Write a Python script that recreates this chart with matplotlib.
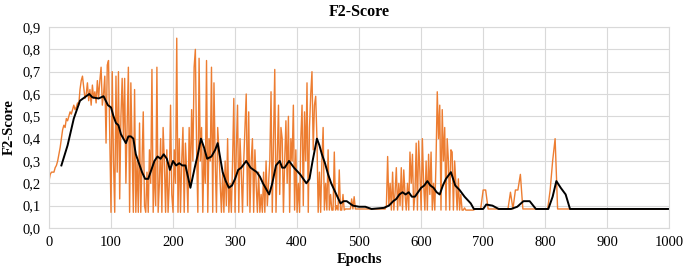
import matplotlib.pyplot as plt
from matplotlib.ticker import FuncFormatter, MultipleLocator

plt.rcParams['font.family'] = ['Liberation Serif', 'DejaVu Serif']

# F2-score per epoch, epochs 0-678 read every 2 epochs
f2_dense = [
    0.21, 0.24, 0.25, 0.25, 0.25, 0.27, 0.28, 0.30, 0.33, 0.36, 0.40, 0.44, 0.46, 0.45, 0.49, 0.48, 0.50, 0.52, 0.51, 0.53,
    0.55, 0.53, 0.54, 0.56, 0.55, 0.62, 0.66, 0.68, 0.63, 0.58, 0.60, 0.65, 0.57, 0.62, 0.55, 0.64, 0.58, 0.61, 0.56, 0.66,
    0.58, 0.66, 0.72, 0.55, 0.60, 0.68, 0.38, 0.73, 0.75, 0.40, 0.07, 0.70, 0.30, 0.07, 0.68, 0.25, 0.70, 0.13, 0.50, 0.67,
    0.40, 0.67, 0.20, 0.45, 0.72, 0.07, 0.65, 0.35, 0.07, 0.62, 0.07, 0.30, 0.07, 0.47, 0.07, 0.30, 0.52, 0.10, 0.07, 0.25,
    0.07, 0.35, 0.20, 0.71, 0.07, 0.30, 0.10, 0.72, 0.07, 0.20, 0.40, 0.07, 0.45, 0.30, 0.07, 0.35, 0.07, 0.20, 0.55, 0.15,
    0.07, 0.35, 0.20, 0.85, 0.07, 0.40, 0.07, 0.30, 0.45, 0.07, 0.38, 0.25, 0.07, 0.45, 0.20, 0.53, 0.30, 0.72, 0.80, 0.35,
    0.07, 0.76, 0.30, 0.45, 0.07, 0.35, 0.20, 0.75, 0.07, 0.40, 0.30, 0.72, 0.07, 0.65, 0.30, 0.07, 0.45, 0.35, 0.20, 0.07,
    0.25, 0.07, 0.30, 0.10, 0.40, 0.07, 0.20, 0.07, 0.30, 0.58, 0.07, 0.35, 0.55, 0.07, 0.40, 0.25, 0.07, 0.30, 0.45, 0.60,
    0.10, 0.52, 0.07, 0.30, 0.40, 0.07, 0.35, 0.20, 0.07, 0.25, 0.07, 0.15, 0.07, 0.25, 0.07, 0.30, 0.10, 0.20, 0.30, 0.61,
    0.07, 0.40, 0.71, 0.07, 0.30, 0.55, 0.15, 0.45, 0.40, 0.07, 0.30, 0.48, 0.20, 0.50, 0.07, 0.40, 0.30, 0.55, 0.08, 0.35,
    0.07, 0.20, 0.07, 0.40, 0.55, 0.10, 0.52, 0.30, 0.65, 0.07, 0.45, 0.60, 0.70, 0.35, 0.55, 0.59, 0.40, 0.07, 0.25, 0.07,
    0.30, 0.45, 0.08, 0.20, 0.08, 0.35, 0.08, 0.15, 0.08, 0.08, 0.34, 0.08, 0.10, 0.08, 0.26, 0.08, 0.08, 0.15, 0.08, 0.085,
    0.085, 0.085, 0.085, 0.085, 0.13, 0.085, 0.14, 0.085, 0.085, 0.085, 0.085, 0.085, 0.085, 0.085, 0.085, 0.085, 0.085, 0.085, 0.085, 0.085,
    0.085, 0.085, 0.085, 0.085, 0.085, 0.085, 0.085, 0.085, 0.085, 0.085, 0.085, 0.085, 0.10, 0.32, 0.10, 0.20, 0.08, 0.25, 0.08, 0.16,
    0.27, 0.08, 0.20, 0.10, 0.27, 0.08, 0.26, 0.15, 0.08, 0.20, 0.08, 0.34, 0.20, 0.33, 0.08, 0.15, 0.38, 0.08, 0.39, 0.25,
    0.08, 0.40, 0.20, 0.08, 0.30, 0.08, 0.33, 0.15, 0.34, 0.08, 0.20, 0.08, 0.30, 0.61, 0.40, 0.55, 0.08, 0.53, 0.30, 0.45,
    0.08, 0.40, 0.30, 0.08, 0.35, 0.34, 0.08, 0.30, 0.20, 0.08, 0.22, 0.08, 0.15, 0.08, 0.08, 0.09, 0.08, 0.08, 0.08, 0.08,
]
# epochs 680-996 read every 4 epochs
f2_tail = [
    0.08, 0.08, 0.085, 0.085, 0.085, 0.17, 0.17, 0.085, 0.085, 0.085,
    0.085, 0.085, 0.085, 0.085, 0.085, 0.085, 0.16, 0.085, 0.17, 0.17,
    0.24, 0.085, 0.085, 0.085, 0.085, 0.085, 0.085, 0.085, 0.085, 0.085,
    0.085, 0.085, 0.17, 0.30, 0.40, 0.085, 0.085, 0.085, 0.085, 0.085,
    0.085, 0.085, 0.085, 0.085, 0.085, 0.085, 0.085, 0.085, 0.085, 0.085,
    0.085, 0.085, 0.085, 0.085, 0.085, 0.085, 0.085, 0.085, 0.085, 0.085,
    0.085, 0.085, 0.085, 0.085, 0.085, 0.085, 0.085, 0.085, 0.085, 0.085,
    0.085, 0.085, 0.085, 0.085, 0.085, 0.085, 0.085, 0.085, 0.085, 0.085,
]
f2_raw = f2_dense + f2_tail
epochs_raw = [2 * i for i in range(len(f2_dense))] + [680 + 4 * i for i in range(len(f2_tail))]

# moving average (black)
ma_epochs = [20, 30, 40, 50, 60, 65, 70, 80, 88, 95, 100, 104, 108, 112, 116,
             120, 124, 128, 132, 136, 140, 145, 150, 155, 160, 165, 170, 175,
             180, 185, 190, 195, 200, 205, 210, 215, 220, 228, 235, 240, 245,
             250, 255, 262, 268, 272, 280, 285, 290, 295, 300, 305, 310, 318,
             325, 335, 340, 345, 355, 360, 366, 372, 376, 380, 387, 395, 405,
             415, 420, 425, 432, 436, 440, 445, 450, 455, 460, 465, 470, 475,
             480, 490, 500, 510, 520, 540, 548, 555, 560, 565, 570, 575, 580,
             585, 590, 595, 600, 605, 610, 615, 620, 625, 630, 635, 640, 648,
             655, 662, 670, 680, 685, 700, 705, 715, 725, 745, 755, 765, 775,
             785, 805, 812, 818, 825, 833, 840, 1000]
ma_f2 = [0.28, 0.37, 0.49, 0.57, 0.59, 0.60, 0.585, 0.58, 0.59, 0.55, 0.54,
         0.50, 0.47, 0.46, 0.42, 0.40, 0.38, 0.41, 0.41, 0.40, 0.33, 0.29,
         0.25, 0.22, 0.22, 0.26, 0.30, 0.32, 0.31, 0.33, 0.31, 0.26, 0.30,
         0.28, 0.29, 0.28, 0.28, 0.18, 0.27, 0.33, 0.40, 0.36, 0.31, 0.32,
         0.35, 0.38, 0.25, 0.21, 0.18, 0.19, 0.22, 0.26, 0.27, 0.30, 0.27,
         0.25, 0.23, 0.20, 0.15, 0.20, 0.28, 0.30, 0.27, 0.27, 0.30, 0.27,
         0.24, 0.20, 0.22, 0.30, 0.40, 0.37, 0.33, 0.29, 0.24, 0.20, 0.17,
         0.14, 0.11, 0.12, 0.12, 0.10, 0.095, 0.095, 0.085, 0.09, 0.10, 0.12,
         0.13, 0.15, 0.16, 0.15, 0.16, 0.14, 0.14, 0.16, 0.18, 0.19, 0.21,
         0.19, 0.18, 0.16, 0.15, 0.19, 0.22, 0.25, 0.19, 0.17, 0.14, 0.11,
         0.085, 0.085, 0.105, 0.10, 0.085, 0.085, 0.095, 0.12, 0.12, 0.085,
         0.085, 0.14, 0.21, 0.18, 0.15, 0.085, 0.085]

fig = plt.figure(figsize=(6.85, 2.73), dpi=100)
ax = fig.add_axes([0.0715, 0.165, 0.9055, 0.736])

ax.plot(epochs_raw, f2_raw, color='#ED7D31', linewidth=1.0)
ax.plot(ma_epochs, ma_f2, color='black', linewidth=1.4)

ax.set_xlim(0, 1000)
ax.set_ylim(0, 0.9)
ax.xaxis.set_major_locator(MultipleLocator(100))
ax.yaxis.set_major_locator(MultipleLocator(0.1))
ax.yaxis.set_major_formatter(FuncFormatter(lambda v, p: f'{v:.1f}'.replace('.', ',')))
ax.tick_params(length=0, labelsize=10.5, pad=6)
ax.grid(True, color='#D9D9D9', linewidth=0.8)
ax.set_axisbelow(True)
for s in ax.spines.values():
    s.set_color('#D9D9D9')
    s.set_linewidth(0.8)

ax.set_title('F2-Score', fontsize=11.5, fontweight='bold', pad=8)
ax.set_xlabel('Epochs', fontsize=10.5, fontweight='bold', labelpad=3)
ax.set_ylabel('F2-Score', fontsize=10.5, fontweight='bold', labelpad=5)

fig.savefig('out.png', dpi=100)
